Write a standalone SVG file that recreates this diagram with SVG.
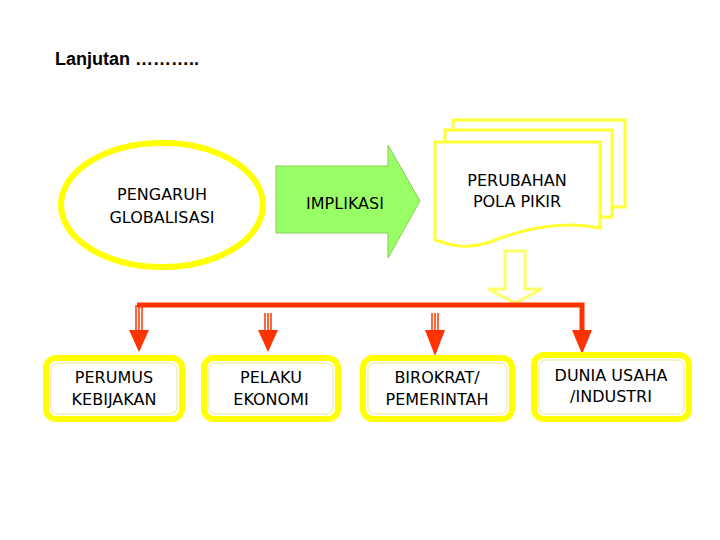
<svg xmlns="http://www.w3.org/2000/svg" width="720" height="540" viewBox="0 0 720 540">
<style>
text{font-family:"DejaVu Sans",Verdana,sans-serif;font-size:16px;fill:#000;text-anchor:middle}
.box{fill:#fff;stroke:#ffff00;stroke-width:6}
.inner{fill:none;stroke:#e8e890;stroke-width:1}
.doc{fill:#fff;stroke:#ffff33;stroke-width:3}
.red{fill:#ff3300}
</style>
<rect width="720" height="540" fill="#fff"/>
<text x="55" y="65" style="font-family:'Liberation Sans',Arial,sans-serif;font-size:18px;font-weight:bold;text-anchor:start">Lanjutan ………..</text>
<g id="globalisasi">
<ellipse cx="162" cy="205" rx="101" ry="62" fill="#fff" stroke="#ffff00" stroke-width="6"/>
<text x="162" y="200">PENGARUH</text><text x="162" y="223">GLOBALISASI</text>
</g>
<g id="implikasi">
<polygon points="276,166 388,166 388,145 420,201 388,258 388,233 276,233" fill="#99ff66" stroke="#88cc55" stroke-width="1"/>
<text x="345" y="209">IMPLIKASI</text>
</g>
<g id="pola">
<path class="doc" d="M453,120 H625 V207 H453 Z"/>
<path class="doc" d="M445,130 H612 V217 H445 Z"/>
<path class="doc" d="M435,142 H600 V228 C560,220 520,230 490,242 C465,250 450,245 435,240 Z"/>
<text x="517" y="186">PERUBAHAN</text><text x="517" y="207">POLA PIKIR</text>
</g>
<g id="connectors">
<polygon points="505,251 525,251 525,289 542,289 515,303 488,289 505,289" fill="#fff" stroke="#ffff66" stroke-width="3"/>
<polyline points="137,305 582,305 582,330" fill="none" stroke="#ff3300" stroke-width="5"/>
<g stroke="#ff3300" stroke-width="1.5">
<line x1="136" y1="305" x2="136" y2="330"/><line x1="139" y1="305" x2="139" y2="330"/><line x1="142" y1="305" x2="142" y2="330"/>
<line x1="265" y1="313" x2="265" y2="330"/><line x1="268" y1="313" x2="268" y2="330"/><line x1="271" y1="313" x2="271" y2="330"/>
<line x1="432" y1="313" x2="432" y2="330"/><line x1="435" y1="313" x2="435" y2="330"/><line x1="438" y1="313" x2="438" y2="330"/>
</g>
<polygon class="red" points="129,330 149,330 139,352"/>
<polygon class="red" points="258,330 278,330 268,352"/>
<polygon class="red" points="425,330 445,330 435,356"/>
<polygon class="red" points="572,330 592,330 582,354"/>
</g>
<g id="perumus">
<rect class="box" x="46" y="358" width="136" height="61" rx="10"/><rect class="inner" x="51" y="363" width="126" height="51" rx="7"/>
<text x="114" y="383">PERUMUS</text><text x="114" y="405">KEBIJAKAN</text>
</g>
<g id="pelaku">
<rect class="box" x="204" y="358" width="134" height="61" rx="10"/><rect class="inner" x="209" y="363" width="124" height="51" rx="7"/>
<text x="271" y="383">PELAKU</text><text x="271" y="405">EKONOMI</text>
</g>
<g id="birokrat">
<rect class="box" x="363" y="358" width="149" height="61" rx="10"/><rect class="inner" x="368" y="363" width="139" height="51" rx="7"/>
<text x="437" y="383">BIROKRAT/</text><text x="437" y="405">PEMERINTAH</text>
</g>
<g id="dunia">
<rect class="box" x="534" y="355" width="155" height="64" rx="10"/><rect class="inner" x="539" y="360" width="145" height="54" rx="7"/>
<text x="611" y="381">DUNIA USAHA</text><text x="611" y="402">/INDUSTRI</text>
</g>
</svg>
